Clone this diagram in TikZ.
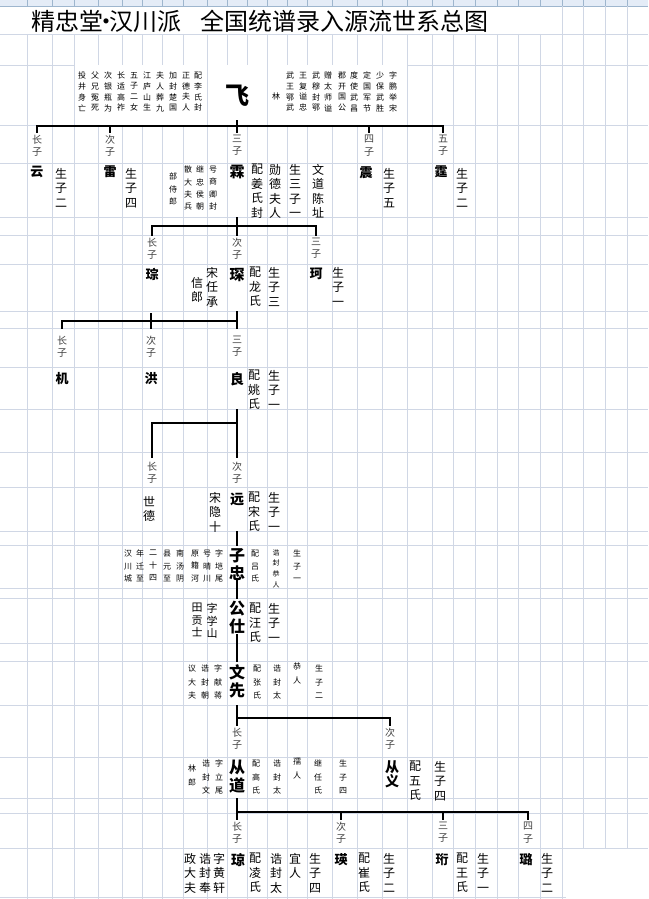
\documentclass[tikz,border=0pt]{standalone}
\usepackage{fontspec}
\newfontfamily\cjk{Noto Sans CJK SC}
\definecolor{gridc}{HTML}{D0D7E5}
\definecolor{headc}{HTML}{E4ECF7}
\definecolor{headl}{HTML}{9EB6CE}
% one character under the other
\makeatletter
\def\vc@go{\@tfor\vc@ch:=}
\newcommand{\vcol}[1]{\edef\vc@list{#1}\vbox{\lineskiplimit=-\maxdimen
  \expandafter\vc@go\vc@list\do{\hbox to 1em{\hss\vc@ch\hss}}}}
\makeatother
\tikzset{
  gridline/.style={draw=gridc,line width=0.8pt},
  wire/.style={draw=black,line width=1.1pt,shorten >=2pt},
  sontag/.style={font=\cjk\fontsize{10}{12.3}\selectfont,text=black!75,anchor=north,inner sep=0pt},
  sonname/.style={font=\cjk\bfseries\fontsize{13}{15}\selectfont,anchor=north,inner sep=0pt},
  mainname/.style={font=\cjk\bfseries\fontsize{16}{18}\selectfont,anchor=north,inner sep=0pt},
  remark/.style={font=\cjk\fontsize{12}{14.5}\selectfont,anchor=north,inner sep=0pt},
  fine/.style={font=\cjk\fontsize{8}{13}\selectfont,anchor=north,inner sep=0pt},
}

\begin{document}
\begin{tikzpicture}[x=1pt,y=-1pt]
\useasboundingbox (0,0) rectangle (648,899);
% sheet
\fill[headc] (0,0) rectangle (648,6);
\draw[headl] (0,6) -- (648,6);
\foreach \gx in {27,52,74,98,122,142,162,183,207,227,247,267,287,307,332,357,382,407,432,453,475,497,518,540,562,583,605,627}
  {\draw[headl] (\gx,0) -- (\gx,6);
   \draw[gridline] (\gx,34) -- (\gx,899);}
\foreach \gx in {562,583,605,627} \draw[gridline] (\gx,6) -- (\gx,34);
\foreach \gy in {34,65,125,163,217,235,264,311,328,367,409,452,487,531,545,588,598,643,661,705,757,798,813,848,897}
  \draw[gridline] (0,\gy) -- (648,\gy);
\fill[white] (74.5,65.5) rectangle (206.5,124.5);
\fill[white] (207.5,65.5) rectangle (266.5,124.5);
\fill[white] (267.5,65.5) rectangle (406.5,124.5);
\fill[white] (566,849) rectangle (648,899);

\node (title) [anchor=west,inner sep=0pt,font=\cjk\fontsize{24}{26}\selectfont] at (31,21) {精忠堂\kern-0.37em•\kern-0.37em汉川派\hspace{0.8em}全国统谱录入源流世系总图};

% first generation
\node (fei) [inner sep=0pt,font=\cjk\bfseries\fontsize{24}{24}\selectfont] at (237,96) {飞};
\node (linmark) [fine,anchor=center] at (276,96) {林};
\foreach \x/\txt [count=\i] in {82/投井身亡,95/父兄冤死,108/次银瓶为,121/长适高祚,134/五子二女,147/江庐山生,160/夫人葬九,173/加封楚国,186/正德夫人,198/配李氏封}
  \node (fa\i) [fine,font=\cjk\fontsize{8}{10.7}\selectfont] at (\x,72) {\vcol{\txt}};
\foreach \x/\txt [count=\i] in {290/武王鄂武,303/王复谥忠,316/武穆封鄂,328/赠太师谥,342/郡开国公,354/度使武昌,367/定国军节,380/少保武胜,393/字鹏举宋}
  \node (fb\i) [fine,font=\cjk\fontsize{8}{10.7}\selectfont] at (\x,72) {\vcol{\txt}};

\node (yunr) [sontag] at (37,135) {\vcol{长子}};
\node (leir) [sontag] at (110,135) {\vcol{次子}};
\node (linr) [sontag] at (237,135) {\vcol{三子}};
\node (zhenr) [sontag] at (369,135) {\vcol{四子}};
\node (tingr) [sontag] at (443,135) {\vcol{五子}};
\coordinate (fei-s) at (237,120);
\coordinate (bar1) at (0,126);
\foreach \s in {yunr,leir,linr,zhenr,tingr}
  \draw[wire] (fei-s) |- (bar1 -| \s) -- (\s.north);

\node (yun) [sonname] at (37,166) {云};
\node (yunn) [remark] at (61,168) {\vcol{生子二}};
\node (lei) [sonname] at (110,166) {雷};
\node (lein) [remark] at (131,168) {\vcol{生子四}};
\node (lin) [sonname,font=\cjk\bfseries\fontsize{15}{15}\selectfont] at (237,165) {霖};
\foreach \x/\y/\txt [count=\i] in {173/173/部侍郎,188/166/散大夫兵,200/166/继忠侯朝,213/166/号商卿封}
  \node (lina\i) [fine,font=\cjk\fontsize{8}{12.3}\selectfont] at (\x,\y) {\vcol{\txt}};
\foreach \x/\txt [count=\i] in {257/配姜氏封,275/勋德夫人,295/生三子一,318/文道陈址}
  \node (linb\i) [remark] at (\x,164) {\vcol{\txt}};
\node (zhen) [sonname] at (366,166) {震};
\node (zhenn) [remark] at (389,168) {\vcol{生子五}};
\node (ting) [sonname] at (441,166) {霆};
\node (tingn) [remark] at (462,168) {\vcol{生子二}};

% second generation
\node (congr) [sontag] at (152,238) {\vcol{长子}};
\node (chenr) [sontag] at (237,238) {\vcol{次子}};
\node (ker) [sontag] at (316,238) {\vcol{三子}};
\coordinate (lin-s) at (237,217);
\coordinate (bar2) at (0,226);
\foreach \s in {congr,chenr,ker}
  \draw[wire] (lin-s) |- (bar2 -| \s) -- (\s.north);

\node (cong) [sonname] at (152,268) {琮};
\node (xinlang) [remark] at (197,277) {\vcol{信郎}};
\node (songren) [remark] at (212,267) {\vcol{宋任承}};
\node (chen) [sonname,font=\cjk\bfseries\fontsize{15}{15}\selectfont] at (237,268) {琛};
\node (chenn1) [remark] at (255,267) {\vcol{配龙氏}};
\node (chenn2) [remark] at (274,267) {\vcol{生子三}};
\node (ke) [sonname] at (316,268) {珂};
\node (ken) [remark] at (338,267) {\vcol{生子一}};

% third generation
\node (jir) [sontag] at (62,336) {\vcol{长子}};
\node (hongr) [sontag] at (151,336) {\vcol{次子}};
\node (liangr) [sontag] at (237,336) {\vcol{三子}};
\coordinate (chen-s) at (237,311);
\coordinate (bar3) at (0,321);
\foreach \s in {jir,hongr,liangr}
  \draw[wire,shorten >=7pt] (chen-s) |- (bar3 -| \s) -- (\s.north);
\draw[wire,shorten >=0pt] (hongr.north) ++(0,-8) -- ++(0,-15);

\node (ji) [sonname] at (62,372) {机};
\node (hong) [sonname] at (151,372) {洪};
\node (liang) [sonname,font=\cjk\bfseries\fontsize{14}{15}\selectfont] at (237,372) {良};
\node (liangn1) [remark] at (254,370) {\vcol{配姚氏}};
\node (liangn2) [remark] at (274,370) {\vcol{生子一}};

% fourth generation
\node (shider) [sontag] at (152,462) {\vcol{长子}};
\node (yuanr) [sontag] at (237,462) {\vcol{次子}};
\coordinate (liang-s) at (237,409);
\coordinate (bar4) at (0,423);
\foreach \s in {shider,yuanr}
  \draw[wire,shorten >=4pt] (liang-s) |- (bar4 -| \s) -- (\s.north);

\node (shide) [remark] at (149,496) {\vcol{世德}};
\node (songyin) [remark] at (215,492) {\vcol{宋隐十}};
\node (yuan) [sonname,font=\cjk\bfseries\fontsize{14}{15}\selectfont] at (237,493) {远};
\node (yuann1) [remark] at (254,492) {\vcol{配宋氏}};
\node (yuann2) [remark] at (274,492) {\vcol{生子一}};

% fifth to seventh generation
\coordinate (yuan-s) at (237,531);
\node (zizhong) [mainname] at (237,548) {\vcol{子忠}};
\draw[wire] (yuan-s) -- (zizhong.north);
\foreach \x/\txt [count=\i] in {128/汉川城,140/年迁至,153/二十四,167/县元至,180/南汤阴,195/原籍河,207/号晴川,219/字垲尾}
  \node (zza\i) [fine,font=\cjk\fontsize{8}{12.5}\selectfont] at (\x,550) {\vcol{\txt}};
\node (zzb1) [fine,font=\cjk\fontsize{8}{12.5}\selectfont] at (255,550) {\vcol{配吕氏}};
\node (zzb2) [fine,font=\cjk\fontsize{7}{10.7}\selectfont] at (276,549) {\vcol{诰封恭人}};
\node (zzb3) [fine,font=\cjk\fontsize{8}{12.5}\selectfont] at (297,550) {\vcol{生子一}};

\node (gongshi) [mainname] at (237,601) {\vcol{公仕}};
\draw[wire] (zizhong.south) -- (gongshi.north);
\node (gsa1) [remark,font=\cjk\fontsize{11}{12.5}\selectfont] at (197,603) {\vcol{田贡士}};
\node (gsa2) [remark,font=\cjk\fontsize{11}{12.5}\selectfont] at (212,603) {\vcol{字学山}};
\node (gsb1) [remark] at (255,603) {\vcol{配汪氏}};
\node (gsb2) [remark] at (274,603) {\vcol{生子一}};

\node (wenxian) [mainname] at (237,664) {\vcol{文先}};
\draw[wire] (gongshi.south) -- (wenxian.north);
\foreach \x/\y/\txt [count=\i] in {192/665/议大夫,205/665/诰封朝,218/665/字献蒋,257/665/配张氏,277/665/诰封太,297/663/恭人,319/665/生子二}
  \node (wx\i) [fine,font=\cjk\fontsize{8}{13.5}\selectfont] at (\x,\y) {\vcol{\txt}};

% eighth generation
\node (congdaor) [sontag] at (237,728) {\vcol{长子}};
\node (congyir) [sontag] at (390,728) {\vcol{次子}};
\coordinate (wx-s) at (237,705);
\coordinate (bar5) at (0,718);
\foreach \s in {congdaor,congyir}
  \draw[wire] (wx-s) |- (bar5 -| \s) -- (\s.north);

\node (congdao) [mainname] at (237,760) {\vcol{从道}};
\foreach \x/\y/\txt [count=\i] in {192/765/林郎,206/760/诰封文,219/760/字立尾,256/760/配高氏,277/760/诰封太,297/758/孺人,318/760/继任氏,343/760/生子四}
  \node (cd\i) [fine,font=\cjk\fontsize{8}{13.5}\selectfont] at (\x,\y) {\vcol{\txt}};
\node (congyi) [sonname,font=\cjk\bfseries\fontsize{14}{14}\selectfont] at (392,760) {\vcol{从义}};
\node (congyin1) [remark] at (415,761) {\vcol{配五氏}};
\node (congyin2) [remark] at (440,761) {\vcol{生子四}};

% ninth generation
\node (qiongr) [sontag] at (237,822) {\vcol{长子}};
\node (yingr) [sontag] at (341,822) {\vcol{次子}};
\node (hengr) [sontag] at (443,822) {\vcol{三子}};
\node (lur) [sontag] at (528,822) {\vcol{四子}};
\coordinate (cd-s) at (237,798);
\coordinate (bar6) at (0,812);
\foreach \s in {qiongr,yingr,hengr,lur}
  \draw[wire] (cd-s) |- (bar6 -| \s) -- (\s.north);

\foreach \x/\txt [count=\i] in {190/政大夫,205/诰封奉,219/字黄轩,255/配凌氏,276/诰封太,295/宜人,315/生子四,364/配崔氏,389/生子二,462/配王氏,483/生子一,547/生子二}
  \node (qy\i) [remark] at (\x,853) {\vcol{\txt}};
\node (qiong) [sonname,font=\cjk\bfseries\fontsize{14}{15}\selectfont] at (238,853) {琼};
\node (ying) [sonname] at (341,853) {瑛};
\node (heng) [sonname] at (442,853) {珩};
\node (lu) [sonname] at (526,853) {璐};
\end{tikzpicture}
\end{document}
